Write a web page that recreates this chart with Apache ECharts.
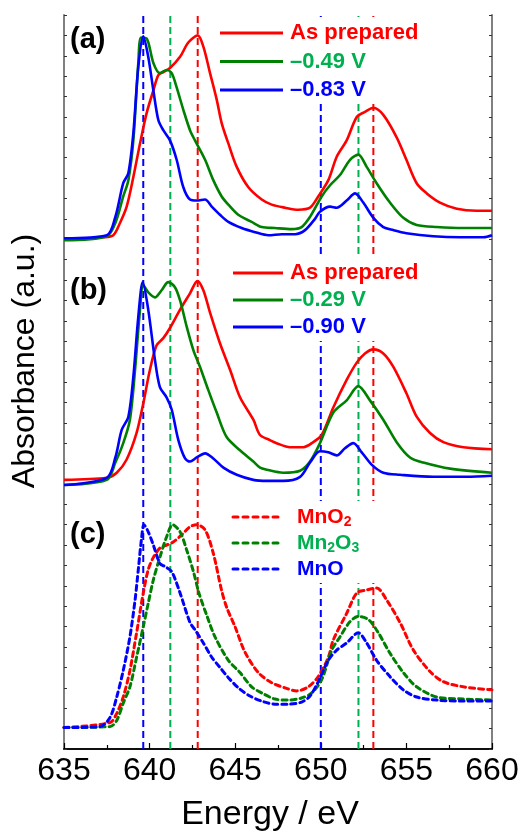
<!DOCTYPE html>
<html>
<head>
<meta charset="utf-8">
<script src="https://cdn.jsdelivr.net/npm/echarts@6/dist/echarts.min.js"></script>
<style>
  html, body { margin: 0; padding: 0; background: #fff; }
  #chart { width: 522px; height: 835px; }
</style>
</head>
<body>
<div id="chart"></div>
<script>
// [energy (eV), absorbance (a.u., stacked with offsets)]
// (a)
const aPrepared = [[635,500],[637.3,502],[637.88,504],[638.27,516],[638.66,532],[639.05,561],[639.44,594],[639.83,624],[640.22,646],[640.51,661],[640.8,664],[641.19,668],[641.78,679],[642.26,693],[642.81,700],[643.14,689],[643.53,663],[643.92,637],[644.21,614],[644.6,594],[645.09,571],[645.77,551],[646.55,539],[647.13,534],[647.91,531],[648.69,529],[649.37,531],[649.85,542],[650.44,558],[650.93,581],[651.51,597],[652.1,620],[652.58,625],[653.07,629],[653.65,622],[654.43,600],[655.0,578],[655.6,555],[656.19,545],[656.96,536],[657.94,530],[659.1,528],[660,528]]
const aMid = [[635,499],[637.5,503],[638.0,516],[638.46,542],[638.76,558],[639.05,597],[639.34,673],[639.5,698],[639.83,697],[640.22,673],[640.6,663],[641.0,666],[641.29,663],[641.58,649],[641.97,627],[642.36,607],[642.65,597],[643.24,578],[643.72,558],[644.21,542],[644.6,534],[645.18,524],[645.96,517],[646.55,512],[647.32,511],[648.3,510],[648.88,512],[649.37,522],[650.05,542],[650.54,553],[651.12,563],[651.71,578],[652.19,583],[652.68,571],[653.26,555],[654.04,536],[654.82,521],[655.6,514],[656.77,512],[658.33,511],[660,511]]
const aLow = [[635,501],[637.5,504],[638.0,522],[638.46,555],[638.76,565],[639.05,604],[639.34,669],[639.63,699],[639.92,679],[640.22,646],[640.51,617],[640.8,607],[641.19,597],[641.58,578],[641.97,551],[642.36,539],[642.75,538],[643.24,539],[643.63,532],[644.11,524],[644.6,517],[645.38,511],[646.16,507],[646.94,504],[647.72,505],[648.5,505],[649.08,509],[649.66,520],[649.95,527],[650.54,532],[650.93,531],[651.51,538],[652.0,545],[652.48,536],[653.07,521],[653.65,512],[654.23,509],[655.0,506],[656.57,503],[658.13,502],[659.5,502],[660,504]]
// (b)
const bPrepared = [[635,264],[637.5,266],[638.08,271],[638.66,284],[639.24,310],[639.63,339],[640.02,372],[640.41,396],[640.8,403],[641.19,413],[641.78,431],[642.36,447],[642.79,459],[643.14,450],[643.53,428],[644.11,398],[644.7,372],[645.28,345],[646.06,323],[646.45,308],[647.03,303],[647.42,300],[648.2,296],[648.98,296],[649.56,301],[650.05,308],[650.73,335],[651.51,362],[652.1,379],[652.58,388],[653.07,392],[653.65,388],[654.23,375],[655.0,349],[655.6,326],[656.38,310],[657.16,301],[658.33,296],[660,294]]
const bMid = [[635,259],[637.5,264],[638.0,281],[638.46,300],[638.85,323],[639.15,372],[639.44,431],[639.63,455],[639.92,448],[640.31,443],[640.7,450],[641.09,458],[641.48,453],[641.78,440],[642.17,414],[642.56,391],[642.94,375],[643.43,352],[643.92,330],[644.5,306],[645.28,293],[646.06,282],[646.45,276],[646.84,274],[647.8,271],[648.79,273],[649.37,282],[649.95,300],[650.73,330],[651.51,342],[652.19,356],[652.87,342],[653.65,323],[654.43,301],[655.21,286],[655.99,281],[657.55,275],[660,271]]
const bLow = [[635,259],[637.5,266],[638.0,286],[638.37,313],[638.76,326],[639.05,365],[639.34,424],[639.6,458],[639.92,431],[640.31,382],[640.6,355],[640.99,345],[641.29,333],[641.68,303],[642.07,285],[642.36,282],[642.75,286],[643.24,290],[643.72,285],[644.31,276],[645.09,269],[646.06,264],[646.84,263],[647.8,263],[648.79,267],[649.37,281],[649.95,292],[650.44,291],[650.93,288],[651.41,295],[651.9,300],[652.39,291],[652.97,279],[653.65,271],[654.63,269],[656.57,267],[658.52,267],[660,268]]
// (c) references
const cMnO2 = [[635,21],[637.69,26],[638.08,35],[638.46,51],[638.85,77],[639.24,114],[639.63,153],[639.92,176],[640.22,188],[640.6,197],[640.99,200],[641.38,203],[641.87,210],[642.36,218],[642.75,220],[643.24,215],[643.72,192],[644.2,156],[644.5,139],[644.99,120],[645.57,95],[646.35,75],[647.13,65],[647.91,60],[648.59,57],[649.27,61],[649.85,71],[650.44,90],[650.73,107],[651.51,133],[652.1,153],[652.68,156],[653.26,158],[653.85,146],[654.63,124],[655.41,97],[656.38,76],[657.16,66],[658.33,61],[660,58]]
const cMn2O3 = [[635,21],[637.69,22],[638.08,28],[638.46,45],[638.85,61],[639.24,90],[639.63,120],[639.92,143],[640.22,166],[640.6,188],[640.99,208],[641.35,220],[641.78,213],[642.17,195],[642.56,174],[642.9,152],[643.34,131],[643.82,110],[644.6,87],[645.28,75],[645.96,61],[646.55,55],[647.32,49],[648.1,48],[648.88,50],[649.47,55],[650.05,68],[650.64,97],[651.12,110],[651.71,125],[652.19,130],[652.78,127],[653.36,114],[654.04,94],[654.82,75],[655.6,61],[656.77,51],[658.33,49],[660,48]]
const cMnO = [[635,21],[637.1,22],[637.69,31],[638.08,51],[638.46,77],[638.85,110],[639.15,146],[639.34,176],[639.54,208],[639.67,220],[639.92,213],[640.22,200],[640.6,182],[640.9,179],[641.29,174],[641.78,153],[642.36,124],[642.65,117],[643.14,104],[643.63,90],[644.11,80],[644.6,70],[645.18,60],[645.86,52],[646.55,47],[647.32,44],[648.1,44],[648.88,46],[649.37,52],[649.85,66],[650.44,87],[650.93,97],[651.51,104],[652.19,114],[652.68,104],[653.26,87],[654.04,71],[654.82,58],[655.6,51],[656.77,48],[658.33,47],[660,47]]

// vertical reference energies (blue, green, red)
const markerEnergies = [639.63, 641.21, 642.81, 650.0, 652.2, 653.07]
const markerColors = ['#0000ff', '#00b050', '#ff0000', '#0000ff', '#00b050', '#ff0000']

const legendA = ['As prepared', '–0.49 V', '–0.83 V']
const legendB = ['As prepared', '–0.29 V', '–0.90 V']
const legendC = ['MnO{s|2}', 'Mn{s|2}O{s|3}', 'MnO']

const RED = '#ff0000', GREEN = '#008000', BLUE = '#0000ff', GREEN_TXT = '#00b050'
const FONT = 'Liberation Sans, Arial, sans-serif'

const chart = echarts.init(document.getElementById('chart'))

const curve = (data, color, dashed) => ({
  type: 'line',
  data: data,
  symbol: 'none',
  smooth: 0.3,
  z: 3,
  lineStyle: dashed
    ? { color: color, width: 3, type: [5, 4], cap: 'round' }
    : { color: color, width: 2.6 }
})

const markers = markerEnergies.map((e, i) => ({
  type: 'line',
  data: [[e, 0], [e, 723]],
  symbol: 'none',
  clip: false,
  z: 1,
  silent: true,
  lineStyle: { color: markerColors[i], width: 2, type: [7, 4] }
}))

// legend blocks (white box hides the markers behind the text)
function legendBlock(top, lineX1, textX, labels, dashed, fontSize, gap) {
  const colors = [RED, GREEN, BLUE]
  const txtColors = [RED, GREEN_TXT, BLUE]
  const els = [{
    type: 'rect', z: 100,
    shape: { x: 288, y: top - 16, width: 142, height: gap * 2 + 30 },
    style: { fill: '#fff' }
  }]
  labels.forEach((lab, i) => {
    const y = top + i * gap
    els.push({
      type: 'line', z: 101,
      shape: { x1: lineX1, y1: y, x2: 283, y2: y },
      style: dashed
        ? { stroke: colors[i], lineWidth: 3, lineDash: [5, 5], lineCap: 'round' }
        : { stroke: colors[i], lineWidth: 3 }
    })
    els.push({
      type: 'text', z: 101, x: textX, y: y,
      style: {
        text: lab, fill: txtColors[i], font: 'bold ' + fontSize + 'px ' + FONT,
        verticalAlign: 'middle',
        rich: { s: { fontSize: 14, fontWeight: 'bold', fontFamily: FONT, fill: txtColors[i], verticalAlign: 'bottom', padding: [10, 0, 0, 0] } }
      }
    })
  })
  return els
}

const panelLabel = (txt, y) => ({
  type: 'text', z: 101, x: 70, y: y,
  style: { text: txt, fill: '#000', font: 'bold 29px ' + FONT, verticalAlign: 'middle' }
})

chart.setOption({
  animation: false,
  backgroundColor: '#fff',
  grid: { left: 64, right: 30, top: 15, bottom: 86 },
  xAxis: [{
    type: 'value', min: 635, max: 660, interval: 5,
    axisLine: { lineStyle: { color: '#000', width: 1.5 } },
    axisTick: { inside: true, length: 6, lineStyle: { color: '#000', width: 1.2 } },
    minorTick: { show: true, splitNumber: 2, length: 4, lineStyle: { color: '#000', width: 1.2 } },
    axisLabel: { fontSize: 32, color: '#000', fontFamily: FONT, margin: 6 },
    splitLine: { show: false }
  }, {
    type: 'value', position: 'top', min: 635, max: 660,
    axisLine: { show: true, lineStyle: { color: '#000', width: 1.5 } },
    axisTick: { show: false }, axisLabel: { show: false }, splitLine: { show: false }
  }],
  yAxis: [{
    type: 'value', min: 0, max: 720, interval: 20,
    axisLine: { show: true, lineStyle: { color: '#808080', width: 2 } },
    axisTick: { show: true, inside: true, length: 3, lineStyle: { color: '#333', width: 1 } },
    axisLabel: { show: false }, splitLine: { show: false }
  }, {
    type: 'value', position: 'right', min: 0, max: 720, interval: 20,
    axisLine: { show: true, lineStyle: { color: '#808080', width: 2 } },
    axisTick: { show: true, inside: true, length: 3, lineStyle: { color: '#333', width: 1 } },
    axisLabel: { show: false }, splitLine: { show: false }
  }],
  series: [
    ...markers,
    curve(aPrepared, RED), curve(aMid, GREEN), curve(aLow, BLUE),
    curve(bPrepared, RED), curve(bMid, GREEN), curve(bLow, BLUE),
    curve(cMnO2, RED, true), curve(cMn2O3, GREEN, true), curve(cMnO, BLUE, true)
  ],
  graphic: [
    ...legendBlock(33, 220, 290, legendA, false, 22, 28.5),
    ...legendBlock(273, 233, 290, legendB, false, 22, 27),
    ...legendBlock(517, 233, 297, legendC, true, 21, 26),
    panelLabel('(a)', 40), panelLabel('(b)', 291), panelLabel('(c)', 535),
    {
      type: 'text', z: 101, x: 25, y: 361, rotation: Math.PI / 2,
      style: { text: 'Absorbance (a.u.)', fill: '#000', font: '32px ' + FONT, align: 'center', verticalAlign: 'middle' }
    },
    {
      type: 'text', z: 101, x: 270, y: 815,
      style: { text: 'Energy / eV', fill: '#000', font: '34px ' + FONT, align: 'center', verticalAlign: 'middle' }
    }
  ]
})

window.addEventListener('resize', () => chart.resize())
</script>
</body>
</html>
